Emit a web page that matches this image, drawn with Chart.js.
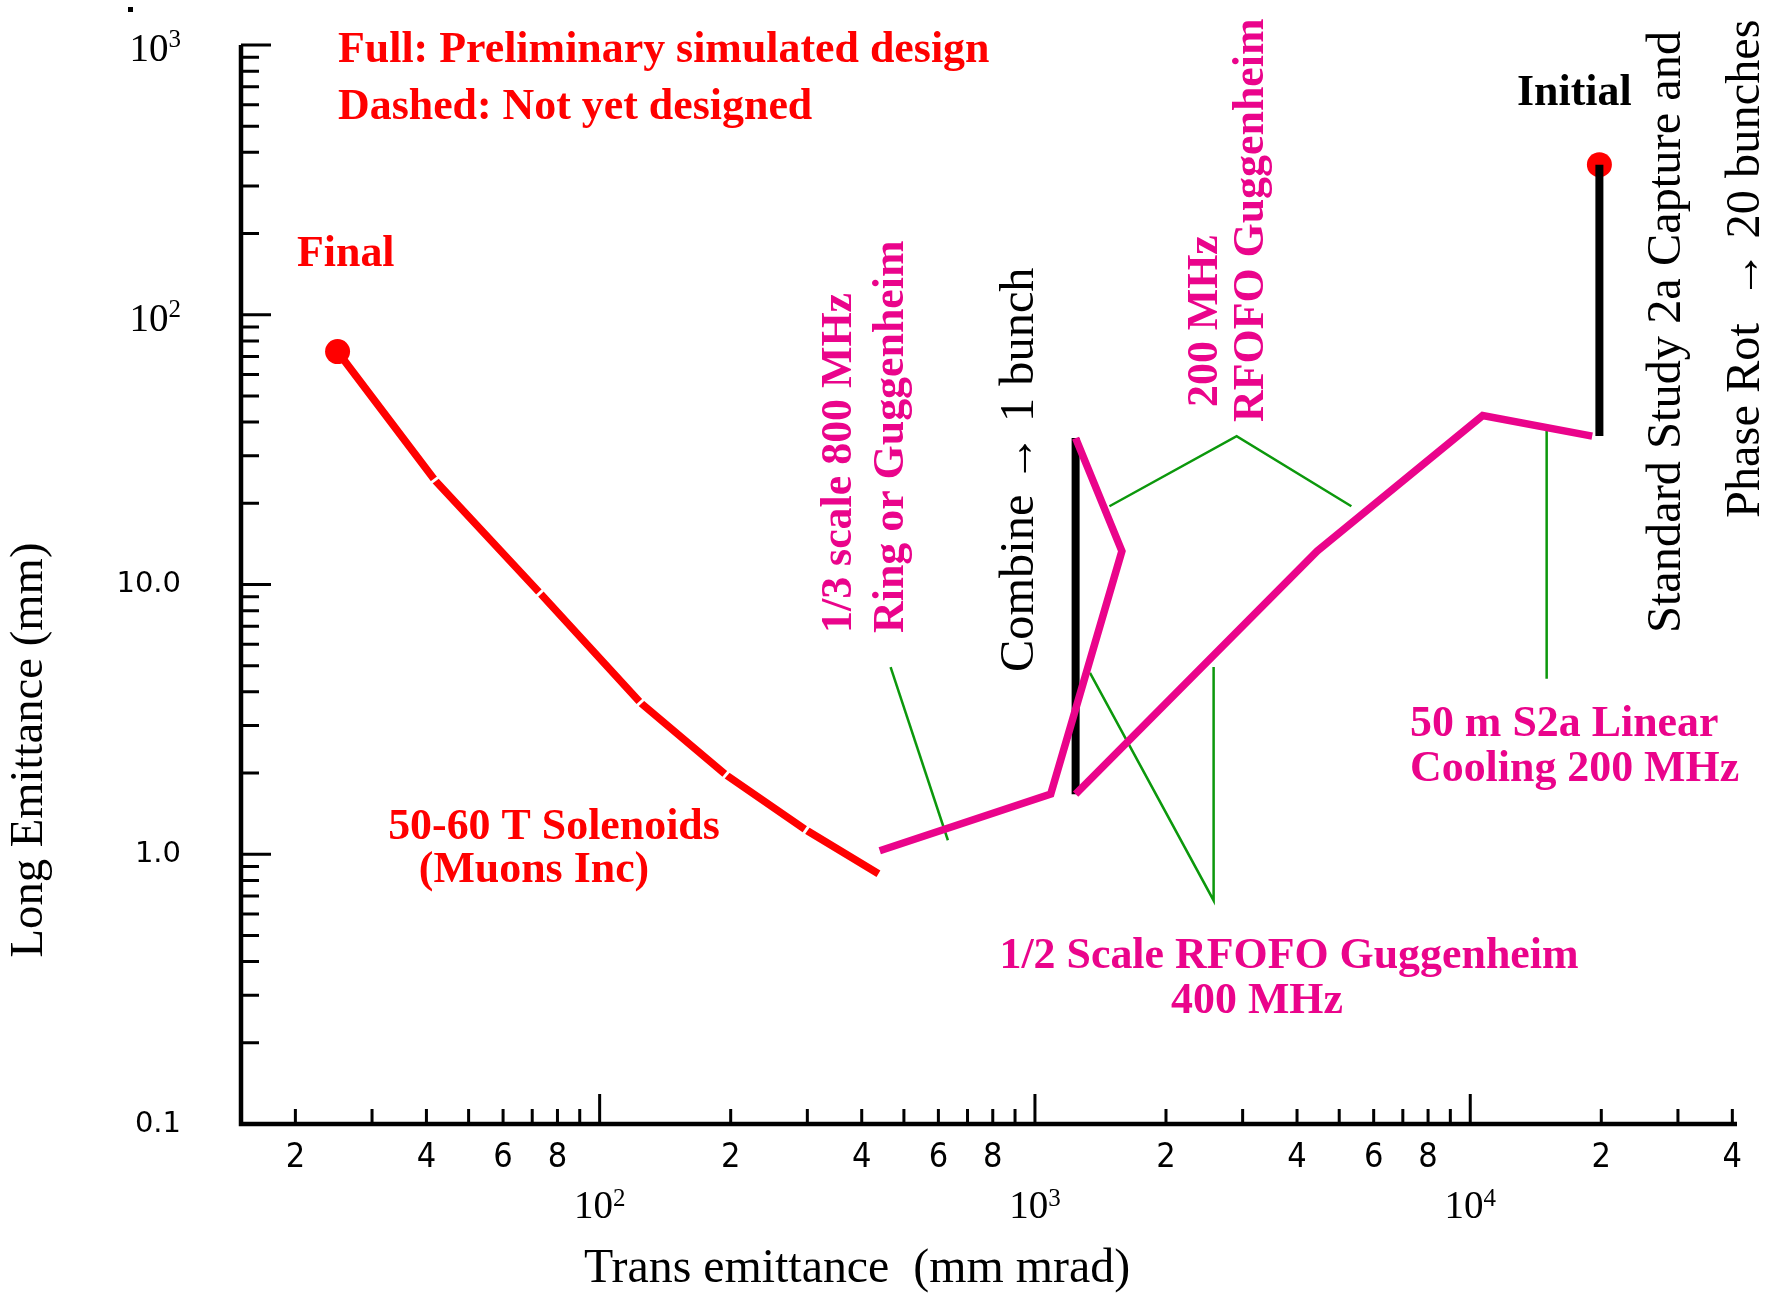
<!DOCTYPE html>
<html>
<head>
<meta charset="utf-8">
<title>Emittance evolution</title>
<script src="https://cdn.jsdelivr.net/npm/chart.js@4.4.1/dist/chart.umd.min.js"></script>
<style>
  html, body { margin: 0; padding: 0; background: #fff; }
  #wrap { width: 1771px; height: 1295px; }
</style>
</head>
<body>
<div id="wrap"><canvas id="chart" width="1771" height="1295"></canvas></div>
<script>
// x = transverse emittance (mm mrad), y = longitudinal emittance (mm)
const solenoidX = [25, 41.8, 72.9, 124, 195, 298, 437];
const solenoidY = [73, 24.4, 9.3, 3.65, 1.97, 1.23, 0.847];

const ringX = [440, 1087, 1584, 1240];
const ringY = [1.03, 1.67, 13.3, 34.9];

const linearX = [1240, 4450, 10680, 19060];
const linearY = [1.67, 13.3, 42.3, 35.5];

const combineX = [1240, 1240];
const combineY = [1.67, 34.9];

const captureX = [19800, 19800];
const captureY = [35.5, 360];

const endpointX = [25, 19800];
const endpointY = [73, 360];

// green leader lines from the labels
const leaderRingX = [466, 631];
const leaderRingY = [4.94, 1.127];
const leader200X = [1483, 2906, 5332];
const leader200Y = [19.5, 35.5, 19.5];
const leader400X = [1338, 2573, 2573];
const leader400Y = [4.70, 0.674, 4.94];
const leaderS2aX = [14980, 14980];
const leaderS2aY = [38.8, 4.47];

// axes
const xMin = 15, xMax = 41000;
const yMin = 0.1, yMax = 1000;
const tickSteps = [1, 2, 3, 4, 5, 6, 7, 8, 9];
const xDecades = [10, 100, 1000, 10000];
const yDecades = [0.1, 1, 10, 100, 1000];
const xDigitSteps = [2, 4, 6, 8];
const xPowerTicks = [100, 1000, 10000];
const xPowerExp = ['2', '3', '4'];
const yNumberTicks = [0.1, 1, 10];
const yNumberLabels = ['0.1', '1.0', '10.0'];
const yPowerTicks = [100, 1000];
const yPowerExp = ['2', '3'];

const RED = '#ff0000';
const MAGENTA = '#ea048b';
const GREEN = '#0c980c';
const BLACK = '#000000';

function points(xs, ys) {
  return xs.map((x, i) => ({ x: x, y: ys[i] }));
}

function path(label, xs, ys, color, width, order) {
  return {
    label: label,
    data: points(xs, ys),
    showLine: true,
    borderColor: color,
    backgroundColor: color,
    borderWidth: width,
    borderCapStyle: 'butt',
    pointRadius: 0,
    order: order
  };
}

// the red path is drawn as separate pieces: white cut at each inner joint
const solenoid = path('50-60 T Solenoids', solenoidX, solenoidY, RED, 7.5, 5);
solenoid.pointStyle = 'line';
solenoid.pointBorderColor = '#ffffff';
solenoid.pointBorderWidth = 3;
solenoid.pointRadius = c => (c.dataIndex > 0 && c.dataIndex < solenoidX.length - 1) ? 6 : 0;
solenoid.rotation = c => {
  const i = c.dataIndex;
  if (i === 0) return 0;
  const sx = c.chart.scales.x, sy = c.chart.scales.y;
  const dx = sx.getPixelForValue(solenoidX[i]) - sx.getPixelForValue(solenoidX[i - 1]);
  const dy = sy.getPixelForValue(solenoidY[i]) - sy.getPixelForValue(solenoidY[i - 1]);
  return Math.atan2(dy, dx) * 180 / Math.PI + 90;
};

const datasets = [
  path('Capture', captureX, captureY, BLACK, 8, 0),
  {
    label: 'Final / Initial',
    data: points(endpointX, endpointY),
    showLine: false,
    pointRadius: 12.5,
    pointBackgroundColor: RED,
    pointBorderWidth: 0,
    order: 1
  },
  path('Ring', ringX, ringY, MAGENTA, 7.5, 2),
  path('Linear', linearX, linearY, MAGENTA, 7.5, 2),
  path('Combine', combineX, combineY, BLACK, 8, 3),
  solenoid,
  path('leader ring', leaderRingX, leaderRingY, GREEN, 2.5, 6),
  path('leader 200', leader200X, leader200Y, GREEN, 2.5, 6),
  path('leader 400', leader400X, leader400Y, GREEN, 2.5, 6),
  path('leader s2a', leaderS2aX, leaderS2aY, GREEN, 2.5, 6)
];

const SERIF = '"Liberation Serif", "DejaVu Serif", serif';

function fitSize(ctx, text, weight, family, width) {
  ctx.font = weight + ' 100px ' + family;
  return 100 * width / ctx.measureText(text).width;
}

// texts on the plot (pixel positions of the figure)
const flatLabels = [
  { t: 'Full: Preliminary simulated design', x: 338, y: 62, c: RED, a: 'left' },
  { t: 'Dashed: Not yet designed', x: 338, y: 119, c: RED, a: 'left' },
  { t: 'Final', x: 297, y: 266, c: RED, a: 'left' },
  { t: 'Initial', x: 1517, y: 105, c: BLACK, a: 'left' },
  { t: '50-60 T Solenoids', x: 554, y: 839, c: RED, a: 'center' },
  { t: '(Muons Inc)', x: 534, y: 882, c: RED, a: 'center' },
  { t: '1/2 Scale RFOFO Guggenheim', x: 1289, y: 968, c: MAGENTA, a: 'center' },
  { t: '400 MHz', x: 1257, y: 1013, c: MAGENTA, a: 'center' },
  { t: '50 m S2a Linear', x: 1410, y: 736, c: MAGENTA, a: 'left' },
  { t: 'Cooling 200 MHz', x: 1410, y: 781, c: MAGENTA, a: 'left' }
];
const upLabels = [
  { t: '1/3 scale 800 MHz', x: 851, y: 633, c: MAGENTA, bold: true },
  { t: 'Ring or Guggenheim', x: 903, y: 633, c: MAGENTA, bold: true },
  { t: '200 MHz', x: 1217, y: 407, c: MAGENTA, bold: true },
  { t: 'RFOFO Guggenheim', x: 1263, y: 422, c: MAGENTA, bold: true },
  { t: 'Combine \u2192 1 bunch', x: 1033, y: 672, c: BLACK, bold: false },
  { t: 'Standard Study 2a Capture and', x: 1680, y: 633, c: BLACK, bold: false },
  { t: 'Phase Rot  \u2192 20 bunches', x: 1759, y: 518, c: BLACK, bold: false }
];

const decorations = {
  id: 'decorations',
  afterDraw(chart) {
    const ctx = chart.ctx;
    const area = chart.chartArea;
    const sx = chart.scales.x, sy = chart.scales.y;
    ctx.save();

    // axis lines
    ctx.strokeStyle = BLACK;
    ctx.lineCap = 'butt';
    ctx.lineWidth = 4.5;
    ctx.beginPath();
    ctx.moveTo(area.left, area.top);
    ctx.lineTo(area.left, area.bottom + 2.2);
    ctx.moveTo(area.left - 2.2, area.bottom);
    ctx.lineTo(area.right, area.bottom);
    ctx.stroke();

    // inward tick marks
    ctx.lineWidth = 3;
    ctx.beginPath();
    xDecades.forEach(d => tickSteps.forEach(s => {
      const v = d * s;
      if (v < xMin || v > xMax * 1.001) return;
      const px = sx.getPixelForValue(v);
      ctx.moveTo(px, area.bottom);
      ctx.lineTo(px, area.bottom - (s === 1 ? 30 : 15));
    }));
    yDecades.forEach(d => tickSteps.forEach(s => {
      const v = d * s;
      if (v < yMin * 0.999 || v > yMax * 1.001) return;
      const py = sy.getPixelForValue(v);
      ctx.moveTo(area.left, py);
      ctx.lineTo(area.left + (s === 1 ? 30 : 18), py);
    }));
    ctx.stroke();

    // tick labels
    ctx.fillStyle = BLACK;
    ctx.textAlign = 'center';
    ctx.textBaseline = 'middle';
    ctx.font = '34px "Liberation Sans Narrow", "DejaVu Sans Condensed", sans-serif';
    xDecades.forEach(d => xDigitSteps.forEach(s => {
      const v = d * s;
      if (v < xMin || v > xMax * 1.001) return;
      ctx.fillText(String(s), sx.getPixelForValue(v), area.bottom + 34);
    }));
    ctx.textAlign = 'right';
    ctx.font = '29px "DejaVu Sans", sans-serif';
    yNumberTicks.forEach((v, i) => {
      ctx.fillText(yNumberLabels[i], 181, sy.getPixelForValue(v));
    });

    const drawPower = (exp, anchorX, baseY, align, supRise) => {
      ctx.textBaseline = 'alphabetic';
      ctx.textAlign = 'left';
      ctx.font = '39px ' + SERIF;
      const wb = ctx.measureText('10').width;
      ctx.font = '25px ' + SERIF;
      const we = ctx.measureText(exp).width;
      const x0 = align === 'center' ? anchorX - (wb + we) / 2 : anchorX - wb - we;
      ctx.font = '39px ' + SERIF;
      ctx.fillText('10', x0, baseY);
      ctx.font = '25px ' + SERIF;
      ctx.fillText(exp, x0 + wb, baseY - supRise);
    };
    xPowerTicks.forEach((v, i) => drawPower(xPowerExp[i], sx.getPixelForValue(v), area.bottom + 94, 'center', 12));
    yPowerTicks.forEach((v, i) => drawPower(yPowerExp[i], 181, sy.getPixelForValue(v) + 16, 'right', 14));

    // annotations
    const boldSize = fitSize(ctx, flatLabels[0].t, 'bold', SERIF, 652);
    const plainSize = fitSize(ctx, upLabels[5].t, 'normal', SERIF, 602);
    ctx.textBaseline = 'alphabetic';
    flatLabels.forEach(l => {
      ctx.font = 'bold ' + boldSize.toFixed(1) + 'px ' + SERIF;
      ctx.fillStyle = l.c;
      ctx.textAlign = l.a;
      ctx.fillText(l.t, l.x, l.y);
    });
    upLabels.forEach(l => {
      ctx.save();
      ctx.translate(l.x, l.y);
      ctx.rotate(-Math.PI / 2);
      ctx.font = (l.bold ? 'bold ' + boldSize.toFixed(1) : plainSize.toFixed(1)) + 'px ' + SERIF;
      ctx.fillStyle = l.c;
      ctx.textAlign = 'left';
      ctx.fillText(l.t, 0, 0);
      ctx.restore();
    });

    // axis titles
    ctx.fillStyle = BLACK;
    ctx.textAlign = 'center';
    ctx.font = fitSize(ctx, 'Trans emittance  (mm mrad)', 'normal', SERIF, 546).toFixed(1) + 'px ' + SERIF;
    ctx.fillText('Trans emittance  (mm mrad)', 857, 1282);
    ctx.save();
    ctx.translate(42, 750);
    ctx.rotate(-Math.PI / 2);
    ctx.font = fitSize(ctx, 'Long Emittance (mm)', 'normal', SERIF, 415).toFixed(1) + 'px ' + SERIF;
    ctx.fillText('Long Emittance (mm)', 0, 0);
    ctx.restore();

    // stray mark at the top left corner of the figure
    ctx.fillRect(128, 7, 5, 5);

    ctx.restore();
  }
};

new Chart(document.getElementById('chart').getContext('2d'), {
  type: 'scatter',
  data: { datasets: datasets },
  options: {
    responsive: false,
    animation: false,
    devicePixelRatio: 1,
    layout: { padding: { left: 241, right: 34, top: 45, bottom: 171 } },
    scales: {
      x: { type: 'logarithmic', min: xMin, max: xMax, display: false },
      y: { type: 'logarithmic', min: yMin, max: yMax, display: false }
    },
    plugins: {
      legend: { display: false },
      tooltip: { enabled: false }
    }
  },
  plugins: [decorations]
});
</script>
</body>
</html>
